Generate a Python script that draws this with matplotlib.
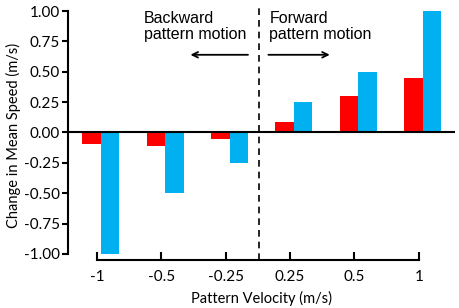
import numpy as np
import matplotlib.pyplot as plt

velocities = ['-1', '-0.5', '-0.25', '0.25', '0.5', '1']
red_vals = [-0.095, -0.115, -0.05, 0.085, 0.30, 0.45]
blue_vals = [-1.0, -0.5, -0.25, 0.25, 0.5, 1.0]
yticks = [-1.0, -0.75, -0.5, -0.25, 0.0, 0.25, 0.5, 0.75, 1.0]

fig = plt.figure(figsize=(4.59, 3.08), dpi=100)
ax = fig.add_axes([0.148, 0.156, 0.843, 0.808])

x = np.arange(len(velocities))
w = 0.287
ax.bar(x - w / 2, red_vals, w, color='#FF0000', zorder=2)
ax.bar(x + w / 2, blue_vals, w, color='#00B0F0', zorder=2)

ax.set_xlim(-0.51, 5.5)
ax.set_ylim(-1.05, 1.0)

# zero line and separator
ax.axhline(0, color='black', lw=1.5, zorder=3)
ax.axvline(2.45, ymin=0, ymax=1.025, color='black', lw=1.2,
           ls=(0, (4, 3)), clip_on=False)

for s in ['top', 'right']:
    ax.spines[s].set_visible(False)
ax.spines['left'].set_bounds(-1, 1)
ax.spines['left'].set_linewidth(1.5)
ax.spines['bottom'].set_linewidth(1.5)

tick_pos = x - 0.06
ax.spines['bottom'].set_bounds(tick_pos[0], tick_pos[-1])
ax.set_xticks(tick_pos)
ax.set_xticklabels(velocities, fontsize=11, family='Lato')
ax.set_yticks(yticks)
ax.set_yticklabels([f'{v:.2f}' for v in yticks], fontsize=11, family='Lato')
ax.tick_params(axis='x', direction='in', length=6, width=1.5, pad=7)
ax.tick_params(axis='y', direction='out', length=4, width=1.5, pad=2)

ax.set_xlabel('Pattern Velocity (m/s)', fontsize=10.5, family='Lato', labelpad=5)
ax.set_ylabel('Change in Mean Speed (m/s)', fontsize=10.5, family='Lato', labelpad=2)

ax.text(0.67, 1.0, 'Backward\npattern motion', fontsize=11.5, family='Liberation Sans',
        va='top', ha='left', linespacing=1.1)
ax.text(2.62, 1.0, 'Forward\npattern motion', fontsize=11.5, family='Liberation Sans',
        va='top', ha='left', linespacing=1.1)
ax.annotate('', xy=(1.35, 0.64), xytext=(2.33, 0.64),
            arrowprops=dict(arrowstyle='->', color='black', lw=1.3))
ax.annotate('', xy=(3.6, 0.64), xytext=(2.56, 0.64),
            arrowprops=dict(arrowstyle='->', color='black', lw=1.3))

fig.savefig('out.png', dpi=100)
